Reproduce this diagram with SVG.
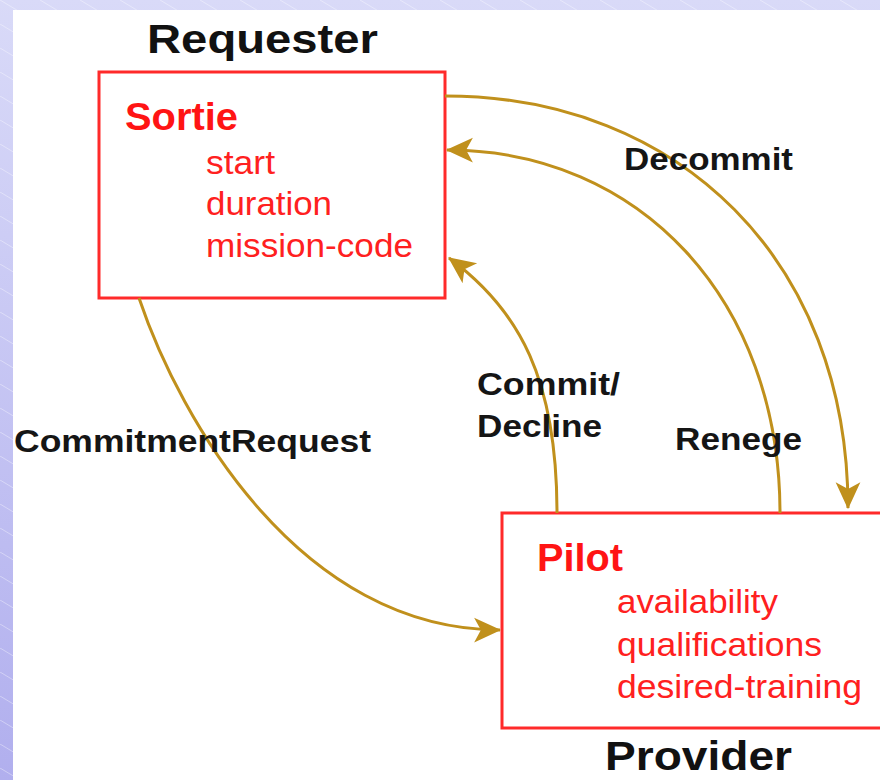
<svg xmlns="http://www.w3.org/2000/svg" width="880" height="780" viewBox="0 0 880 780">
  <defs>
    <linearGradient id="bgGrad" x1="0" y1="0" x2="0" y2="1">
      <stop offset="0" stop-color="#d9daf8"/>
      <stop offset="1" stop-color="#b1afee"/>
    </linearGradient>
    <pattern id="hatch" width="40" height="24" patternUnits="userSpaceOnUse">
      <path d="M0,0 L40,24" stroke="#ffffff" stroke-opacity="0.45" stroke-width="0.8"/>
    </pattern>
    <marker id="arrow" markerUnits="userSpaceOnUse" markerWidth="27" markerHeight="27"
            viewBox="0 0 24 24" refX="23" refY="12" orient="auto">
      <path d="M0,1 L24,12 L0,23 L6,12 z" fill="#c0901c"/>
    </marker>
    <style>
      .box { fill: #ffffff; stroke: #ff2a2a; stroke-width: 3; }
      .role { font-family: "Liberation Sans", Arial, sans-serif; font-weight: bold; font-size: 40px; fill: #111111; }
      .cls { font-family: "Liberation Sans", Arial, sans-serif; font-weight: bold; font-size: 38px; fill: #ff1414; }
      .attr { font-family: "Liberation Sans", Arial, sans-serif; font-size: 34px; fill: #ff2020; }
      .lbl { font-family: "Liberation Sans", Arial, sans-serif; font-weight: bold; font-size: 32px; fill: #151515; }
      .conn { fill: none; stroke: #c0901c; stroke-width: 3; marker-end: url(#arrow); }
    </style>
  </defs>

  <!-- backdrop: hatched lavender margin with white canvas -->
  <rect x="0" y="0" width="880" height="780" fill="url(#bgGrad)"/>
  <rect x="0" y="0" width="880" height="780" fill="url(#hatch)"/>
  <rect x="13" y="10" width="867" height="770" fill="#ffffff"/>

  <!-- requester side -->
  <g id="sortie">
    <rect class="box" x="99" y="72" width="346" height="226"/>
    <text class="cls" x="125" y="130" textLength="113" lengthAdjust="spacingAndGlyphs">Sortie</text>
    <text class="attr" x="206" y="174" textLength="69" lengthAdjust="spacingAndGlyphs">start</text>
    <text class="attr" x="206" y="215" textLength="126" lengthAdjust="spacingAndGlyphs">duration</text>
    <text class="attr" x="206" y="257" textLength="207" lengthAdjust="spacingAndGlyphs">mission-code</text>
  </g>
  <text id="requester-label" class="role" x="147" y="53" textLength="231" lengthAdjust="spacingAndGlyphs">Requester</text>

  <!-- provider side -->
  <g id="pilot">
    <rect class="box" x="502" y="513" width="400" height="215"/>
    <text class="cls" x="537" y="571" textLength="86" lengthAdjust="spacingAndGlyphs">Pilot</text>
    <text class="attr" x="617" y="613" textLength="161" lengthAdjust="spacingAndGlyphs">availability</text>
    <text class="attr" x="617" y="656" textLength="205" lengthAdjust="spacingAndGlyphs">qualifications</text>
    <text class="attr" x="617" y="698" textLength="245" lengthAdjust="spacingAndGlyphs">desired-training</text>
  </g>
  <text id="provider-label" class="role" x="605" y="770" textLength="187" lengthAdjust="spacingAndGlyphs">Provider</text>

  <!-- message flows -->
  <g id="connectors">
    <path class="conn" d="M139,298 C180,420 300,630 500,630"/>
    <path class="conn" d="M445,96 C680,96 848,262 848,508"/>
    <path class="conn" d="M780,513 C780,300 640,150 447,150"/>
    <path class="conn" d="M557,513 C557,380 520,310 449,258"/>
    <text class="lbl" x="14" y="452" textLength="357" lengthAdjust="spacingAndGlyphs">CommitmentRequest</text>
    <text class="lbl" x="624" y="170" textLength="169" lengthAdjust="spacingAndGlyphs">Decommit</text>
    <text class="lbl" x="477" y="395" textLength="143" lengthAdjust="spacingAndGlyphs">Commit/</text>
    <text class="lbl" x="477" y="437" textLength="125" lengthAdjust="spacingAndGlyphs">Decline</text>
    <text class="lbl" x="675" y="450" textLength="127" lengthAdjust="spacingAndGlyphs">Renege</text>
  </g>
</svg>
